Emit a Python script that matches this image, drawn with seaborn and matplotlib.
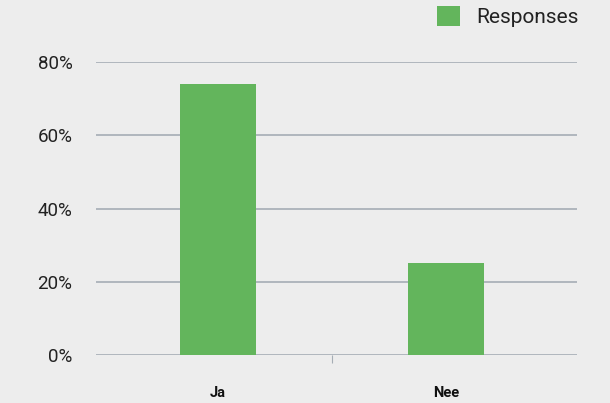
import matplotlib
matplotlib.use("Agg")
import matplotlib.pyplot as plt
import seaborn as sns
import pandas as pd
from matplotlib.ticker import FixedLocator, FuncFormatter

categories = ["Ja", "Nee"]
responses = [74, 25]
y_ticks = [0, 20, 40, 60, 80]
series_name = "Responses"

df = pd.DataFrame({"answer": categories, "pct": responses})

sns.set_theme(style="white")
plt.rcParams["font.family"] = ["Roboto", "DejaVu Sans"]

bg = "#EDEDED"
green = "#63B55C"
grid = "#A5ADB5"

fig = plt.figure(figsize=(6.10, 4.03), dpi=100, facecolor=bg)
ax = fig.add_axes([96/610, 1-355/403, (577-96)/610, (355-62)/403])
ax.set_facecolor(bg)

sns.barplot(data=df, x="answer", y="pct", color=green, width=0.333,
            label=series_name, ax=ax, saturation=1, zorder=3, linewidth=0)

ax.set_ylim(0, 80)
ax.set_xlim(-0.535, 1.575)
ax.set_yticks(y_ticks)
ax.yaxis.set_major_formatter(FuncFormatter(lambda v, p: f"{int(v)}%"))
ax.grid(axis="y", color=grid, linewidth=1.2, zorder=0)
ax.grid(axis="x", visible=False)
for s in ax.spines.values():
    s.set_visible(False)
ax.set_xlabel("")
ax.set_ylabel("")
ax.tick_params(axis="y", length=0, pad=17, labelsize=13.5, labelcolor="#222222")
ax.tick_params(axis="x", which="major", length=0, pad=22, labelsize=10.5, labelcolor="#111111")
for t in ax.get_xticklabels():
    t.set_fontweight("bold")
ax.xaxis.set_minor_locator(FixedLocator([0.5]))
ax.tick_params(axis="x", which="minor", length=6, width=0.8, color=grid, bottom=True)

leg = ax.legend(loc="upper right", bbox_to_anchor=(579/610, 1-6/403),
                bbox_transform=fig.transFigure, frameon=False, fontsize=15,
                borderaxespad=0, borderpad=0,
                handlelength=1.1, handleheight=1.1, handletextpad=0.8,
                labelcolor="#222222")

fig.savefig("out.png", dpi=100, facecolor=bg)
